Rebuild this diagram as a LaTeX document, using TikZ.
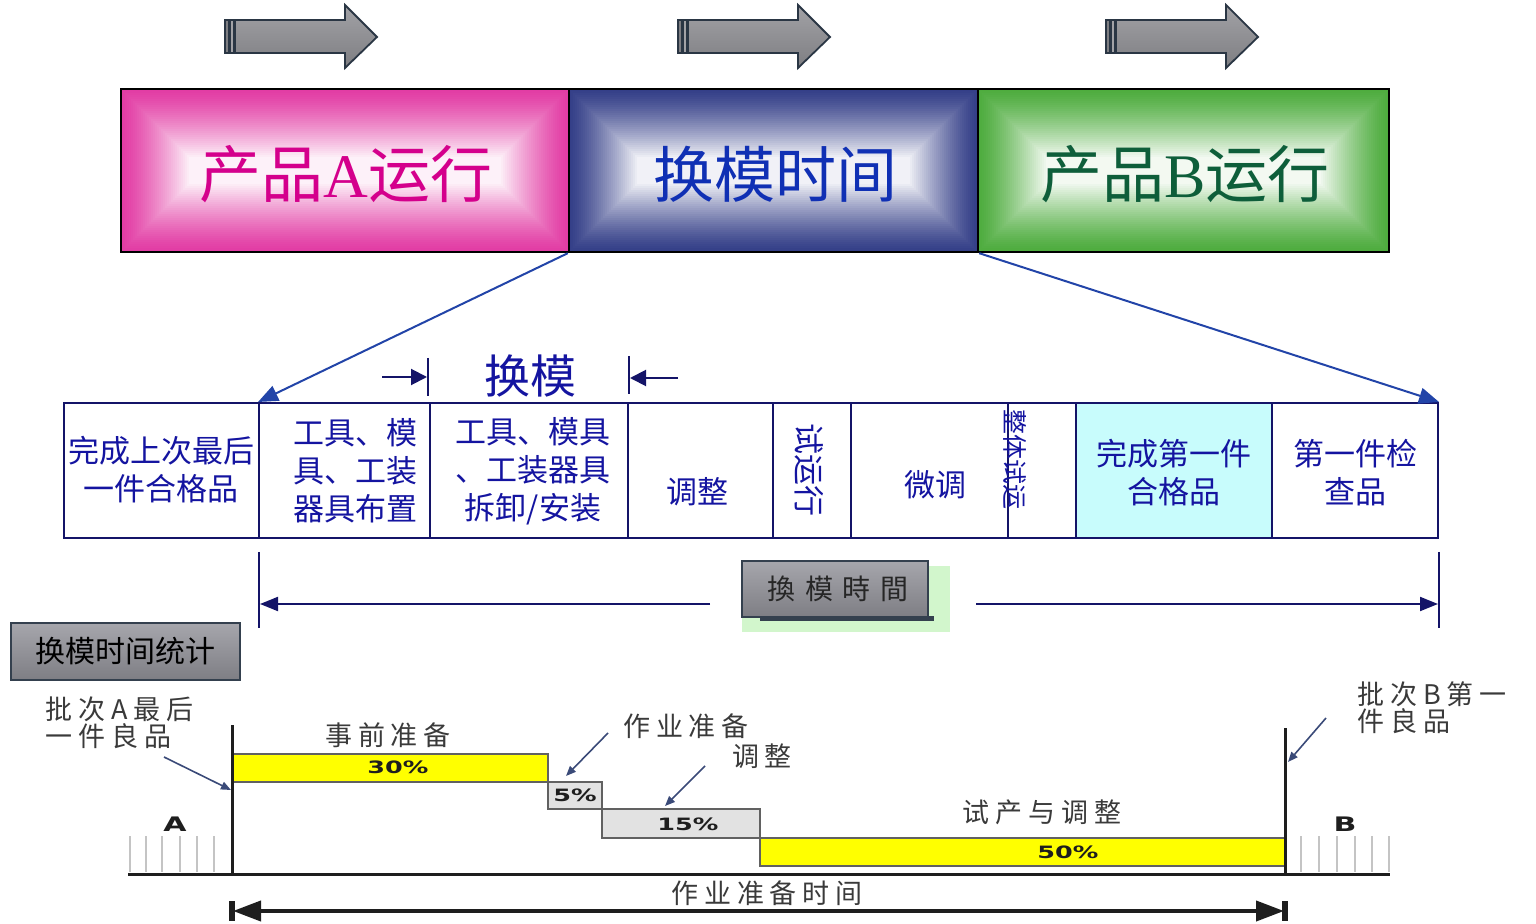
\documentclass[tikz,border=0pt]{standalone}
\usepackage{fontspec}
\usepackage{graphicx}
\usetikzlibrary{arrows.meta}
\setmainfont{Liberation Serif}
\newfontfamily\cjk{Noto Sans CJK SC}
\newfontfamily\cjkls{Noto Sans CJK SC}[LetterSpace=22]
\newfontfamily\cjktcls{Noto Sans CJK TC}[LetterSpace=35]
\newfontfamily\pctfont{DejaVu Sans}
\definecolor{pinkO}{HTML}{E23CA4}
\definecolor{pinkT}{HTML}{D4008C}
\definecolor{blueO}{HTML}{343F88}
\definecolor{blueT}{HTML}{1030B4}
\definecolor{greenO}{HTML}{4EAC3E}
\definecolor{greenT}{HTML}{0E5E3A}
\definecolor{arrtop}{HTML}{A2A2A6}
\definecolor{arrbot}{HTML}{7E7E82}
\definecolor{arrline}{HTML}{2A3644}
\definecolor{lineblue}{HTML}{2244A8}
\definecolor{tblc}{HTML}{141468}
\definecolor{tblt}{HTML}{1414A0}
\definecolor{cyanF}{HTML}{C8FCFC}
\definecolor{boxtop}{HTML}{A6A6AC}
\definecolor{boxbot}{HTML}{7E7E84}
\definecolor{boxline}{HTML}{34404E}
\definecolor{shadeG}{HTML}{D2F6CC}
\definecolor{chartc}{HTML}{1E1E1E}
\definecolor{lblc}{HTML}{3A3A3A}
\definecolor{ptrc}{HTML}{3A4A78}
\definecolor{barY}{HTML}{FFFF00}
\definecolor{barG}{HTML}{E2E2E2}
\definecolor{hatchc}{HTML}{C4C4C4}
\newcommand\bevelfill[5]{%
  \foreach \i in {0,...,34}{%
    \pgfmathsetmacro\dd{\i*2}%
    \pgfmathsetmacro\pp{93*(\i/34)^1.3}%
    \fill[white!\pp!#5] ({#1+\dd},{#2+\dd}) rectangle ({#3-\dd},{#4-\dd});
  }}
\newcommand\grayarr[1]{%
  \draw[arrowline, top color=arrtop, bottom color=arrbot] ({#1+10},20) -- ({#1+120},20) -- ({#1+120},5) -- ({#1+152},37) -- ({#1+120},68) -- ({#1+120},53) -- ({#1+10},53) -- cycle;
  \draw[arrowline, fill=arrbot] (#1,20) rectangle ({#1+4},53);
  \draw[arrowline, fill=arrtop] ({#1+5},20) rectangle ({#1+9},53);}
\newcommand\pctx[1]{\scalebox{1.5}[1]{#1}}
\tikzset{
  arrowline/.style={draw=arrline, line width=0.9pt, line join=miter},
  topbox/.style={draw=black, line width=1.2pt, minimum height=81.5pt, inner sep=0pt},
  toptxt/.style={font={\fontsize{31}{31}\cjk}, inner sep=0pt},
  topline/.style={draw=lineblue, line width=1pt, -{Triangle[length=10pt,width=8pt]}},
  cell/.style={draw=tblc, line width=1pt, minimum height=67.5pt, inner sep=0pt},
  ttxt/.style={text=tblt, font={\fontsize{15.5}{19}\cjk}, align=center, inner sep=0pt},
  tick/.style={draw=tblc, line width=1pt},
  spanarr/.style={draw=tblc, line width=1pt, -{Triangle[length=9pt,width=7pt]}},
  smallarr/.style={draw=tblc, line width=1pt, -{Triangle[length=8pt,width=8pt]}},
  graybox/.style={draw=boxline, line width=1pt, top color=boxtop, bottom color=boxbot, inner sep=0pt},
  lbl/.style={text=lblc, font={\fontsize{13.5}{12.5}\cjkls}, inner sep=0pt, align=left},
  chline/.style={draw=chartc, line width=1.5pt},
  bar/.style={draw=chartc!70, line width=0.8pt, inner sep=0pt},
  pct/.style={text=chartc, font={\fontsize{8.5}{9}\pctfont\bfseries}, inner sep=0pt},
  ptr/.style={draw=ptrc, line width=0.8pt, -{Triangle[length=5pt,width=4pt]}},
  hatch/.style={draw=hatchc, line width=1pt},
}
\begin{document}
\begin{tikzpicture}[x=0.5pt,y=-0.5pt]
\useasboundingbox (0,0) rectangle (1536,924);
% top gray arrows
\grayarr{225}
\grayarr{678}
\grayarr{1106}
% top boxes
\bevelfill{121}{89}{569}{252}{pinkO}
\bevelfill{569}{89}{978}{252}{blueO}
\bevelfill{978}{89}{1389}{252}{greenO}
\node[topbox, minimum width=224pt] (pA) at (345,170.5) {};
\node[topbox, minimum width=204.5pt] (pM) at (773.5,170.5) {};
\node[topbox, minimum width=205.5pt] (pB) at (1183.5,170.5) {};
\node[toptxt, text=pinkT] (tA) at (346,174) {产品{\rmfamily A}运行};
\node[toptxt, text=blueT, font={\fontsize{30.5}{31}\cjk}] (tM) at (775,174) {换模时间};
\node[toptxt, text=greenT] (tB) at (1185,174) {产品{\rmfamily B}运行};
% table
\node[cell, minimum width=97.5pt] (c1) at (161.5,470.5) {};
\node[cell, minimum width=85.5pt] (c2) at (344.5,470.5) {};
\node[cell, minimum width=99pt] (c3) at (529,470.5) {};
\node[cell, minimum width=72.5pt] (c4) at (700.5,470.5) {};
\node[cell, minimum width=39pt] (c5) at (812,470.5) {};
\node[cell, minimum width=78.5pt] (c6) at (929.5,470.5) {};
\node[cell, minimum width=34pt] (c7) at (1042,470.5) {};
\node[cell, minimum width=98pt, fill=cyanF] (c8) at (1174,470.5) {};
\node[cell, minimum width=83pt] (c9) at (1355,470.5) {};
\node[ttxt] (t1) at (161,470) {完成上次最后\\一件合格品};
\node[ttxt] (t2) at (355,471) {工具、模\\具、工装\\器具布置};
\node[ttxt] (t3) at (533,471) {工具、模具\\、工装器具\\拆卸/安装};
\node[ttxt] (t4) at (697,492) {调整};
\node[ttxt, rotate=-90] (t5) at (809,470) {试运行};
\node[ttxt] (t6) at (935,485) {微调};
\node[ttxt, rotate=-90, font={\fontsize{12.5}{13}\cjk}] (t7) at (1015,460) {整体试运};
\node[ttxt] (t8) at (1174,473) {完成第一件\\合格品};
\node[ttxt] (t9) at (1355,473) {第一件检\\查品};
% connectors from changeover box
\draw[topline] (pM.south west) -- (c2.north west);
\draw[topline] (pM.south east) -- (c9.north east);
% "换模" marker
\node[text=tblt, font={\fontsize{23}{23}\cjk}, inner sep=0pt] (hm) at (530,376) {换模};
\coordinate (hLt) at (428,358); \coordinate (hLb) at (428,396);
\coordinate (hRt) at (629,356); \coordinate (hRb) at (629,394);
\coordinate (hLs) at (382,377); \coordinate (hLe) at (427,377);
\coordinate (hRs) at (678,378); \coordinate (hRe) at (630,378);
\draw[tick] (hLt) -- (hLb);
\draw[tick] (hRt) -- (hRb);
\draw[smallarr] (hLs) -- (hLe);
\draw[smallarr] (hRs) -- (hRe);
% span arrow with label box
\coordinate (sLt) at (259,552); \coordinate (sLb) at (259,628);
\coordinate (sRt) at (1439,552); \coordinate (sRb) at (1439,628);
\draw[tick] (sLt) -- (sLb);
\draw[tick] (sRt) -- (sRb);
\coordinate (sLs) at (710,604); \coordinate (sLe) at (260,604);
\coordinate (sRs) at (976,604); \coordinate (sRe) at (1438,604);
\draw[spanarr] (sLs) -- (sLe);
\draw[spanarr] (sRs) -- (sRe);
\fill[shadeG] (742,566) rectangle (950,632);
\fill[boxline] (760,616) rectangle (934,621);
\node[graybox, minimum width=93pt, minimum height=28pt] (gM) at (835,589) {};
\node[text=black!85, font={\fontsize{14}{14}\cjktcls}, inner sep=0pt] (gMt) at (838,589) {換模時間};
% statistics label
\node[graybox, minimum width=114.5pt, minimum height=28.5pt, font={\fontsize{15}{15}\cjk}, text=black] (stat) at (125.5,651.5) {换模时间统计};
% chart
\foreach \x in {130,146,162,180,197,214} \draw[hatch] (\x,836) -- (\x,872);
\foreach \x in {1301,1319,1337,1355,1372,1389} \draw[hatch] (\x,836) -- (\x,872);
\node[bar, fill=barY, minimum width=158pt, minimum height=14pt] (b30) at (390,768) {};
\node[bar, fill=barG, minimum width=27pt, minimum height=13.5pt] (b5) at (575,795.5) {};
\node[bar, fill=barG, minimum width=79pt, minimum height=14.5pt] (b15) at (681,823.5) {};
\node[bar, fill=barY, minimum width=262.5pt, minimum height=14pt] (b50) at (1022.5,852) {};
\node[pct] (p30) at (398,767) {\pctx{30\%}};
\node[pct] (p5) at (575,795) {\pctx{5\%}};
\node[pct] (p15) at (688,824) {\pctx{15\%}};
\node[pct] (p50) at (1068,852) {\pctx{50\%}};
\coordinate (bl0) at (128,874); \coordinate (bl1) at (1390,874);
\draw[chline] (bl0) -- (bl1);
\coordinate (vLt) at (232,725); \coordinate (vLb) at (232,874);
\coordinate (vRt) at (1285,728); \coordinate (vRb) at (1285,874);
\draw[chline] (vLt) -- (vLb);
\draw[chline] (vRt) -- (vRb);
\node[pct, font={\fontsize{10}{10}\pctfont\bfseries}] (lAb) at (175,824) {\pctx{A}};
\node[pct, font={\fontsize{10}{10}\pctfont\bfseries}] (lBb) at (1345,824) {\pctx{B}};
\node[lbl, anchor=west] (bA) at (45,723) {批次A最后\\一件良品};
\node[lbl, anchor=west] (bB) at (1357,708) {批次B第一\\件良品};
\node[lbl] (l1) at (388,735) {事前准备};
\node[lbl] (l2) at (686,726) {作业准备};
\node[lbl] (l3) at (762,756) {调整};
\node[lbl] (l4) at (1042,812) {试产与调整};
\node[lbl] (l5) at (767,893) {作业准备时间};
\coordinate (aA0) at (164,757); \coordinate (aA1) at (231,790);
\coordinate (aP0) at (608,733); \coordinate (aP1) at (566,776);
\coordinate (aT0) at (705,766); \coordinate (aT1) at (665,806);
\coordinate (aB0) at (1326,718); \coordinate (aB1) at (1288,762);
\draw[ptr] (aA0) -- (aA1);
\draw[ptr] (aP0) -- (aP1);
\draw[ptr] (aT0) -- (aT1);
\draw[ptr] (aB0) -- (aB1);
% bottom duration arrow
\coordinate (dL) at (233,911); \coordinate (dR) at (1284,911);
\draw[line width=2.6pt, draw=chartc] (232,901) -- (232,921);
\draw[line width=2.6pt, draw=chartc] (1285,901) -- (1285,921);
\draw[line width=2pt, draw=chartc, {Triangle[length=14pt,width=10pt]}-{Triangle[length=14pt,width=10pt]}] (dL) -- (dR);
\end{tikzpicture}
\end{document}
